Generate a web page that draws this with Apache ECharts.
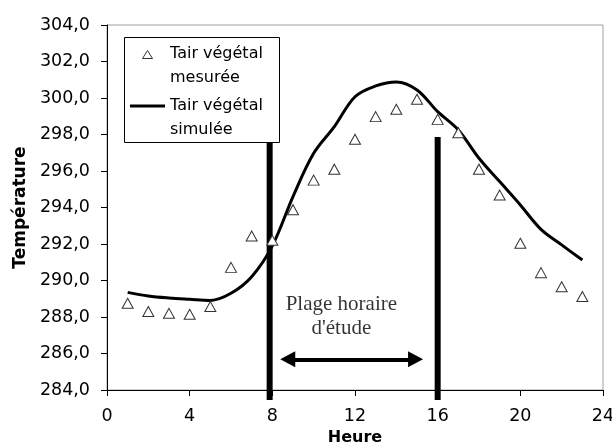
<!DOCTYPE html>
<html>
<head>
<meta charset="utf-8">
<script src="https://cdn.jsdelivr.net/npm/echarts@6/dist/echarts.min.js"></script>
<style>
  html, body { margin: 0; padding: 0; background: #fff; }
  #chart { width: 612px; height: 446px; }
</style>
</head>
<body>
<div id="chart"></div>
<script>
// Hours of the day (x values)
const hours = [1, 2, 3, 4, 5, 6, 7, 8, 9, 10, 11, 12, 13, 14, 15, 16, 17, 18, 19, 20, 21, 22, 23];
// Measured canopy air temperature (K)
const tairMesuree = [288.75, 288.3, 288.2, 288.15, 288.57, 290.72, 292.44, 292.2, 293.88, 295.5, 296.1, 297.74,
                     298.98, 299.38, 299.93, 298.83, 298.1, 296.1, 294.68, 292.04, 290.43, 289.66, 289.12];
// Simulated canopy air temperature (K)
const tairSimulee = [289.35, 289.15, 289.04, 288.97, 288.91, 289.3, 290.21, 291.9, 294.6, 296.97, 298.43, 300.07,
                     300.66, 300.88, 300.44, 299.25, 298.25, 296.7, 295.42, 294.14, 292.8, 291.95, 291.12];
// Axis ranges and tick steps
const xTicks = [0, 4, 8, 12, 16, 20, 24];
const yTicks = [284, 286, 288, 290, 292, 294, 296, 298, 300, 302, 304];
// Study window boundaries (hours) and their marker extent (K)
const studyStart = 7.87;
const studyEnd = 16;
const markerTop = 297.86;
const markerBottom = 283.45;
// Double arrow across the study window
const arrowFrom = 8.745;
const arrowTo = 14.93;
const arrowLevel = 285.68;
// Annotation text anchor
const noteText = "Plage horaire\nd'étude";
const notePos = [11.34, 288.04];

const serieLabels = ['Tair végétal\nmesurée', 'Tair végétal\nsimulée'];

const chart = echarts.init(document.getElementById('chart'), null, { renderer: 'canvas' });

const sans = 'DejaVu Sans';

const option = {
  animation: false,
  backgroundColor: '#fff',
  grid: {
    left: 107, top: 25, right: 9, bottom: 56,
    outerBoundsMode: 'none',
    containLabel: false,
    show: true, borderColor: '#a0a0a0', borderWidth: 1, backgroundColor: 'transparent'
  },
  xAxis: {
    type: 'value',
    min: xTicks[0], max: xTicks[xTicks.length - 1], interval: xTicks[1] - xTicks[0],
    name: 'Heure', nameLocation: 'middle', nameGap: 24,
    nameTextStyle: { fontFamily: sans, fontWeight: 'bold', fontSize: 16, color: '#000' },
    axisLine: { show: true, onZero: false, lineStyle: { color: '#000', width: 1 } },
    axisTick: { show: true, inside: false, length: 6, lineStyle: { color: '#000' } },
    axisLabel: { margin: 17, fontFamily: sans, fontSize: 17.5, color: '#000' },
    splitLine: { show: false }
  },
  yAxis: {
    type: 'value',
    min: yTicks[0], max: yTicks[yTicks.length - 1], interval: yTicks[1] - yTicks[0],
    name: 'Température', nameLocation: 'middle', nameGap: 78,
    nameTextStyle: { fontFamily: sans, fontWeight: 'bold', fontSize: 17, color: '#000' },
    axisLine: { show: true, onZero: false, lineStyle: { color: '#000', width: 1 } },
    axisTick: { show: true, inside: false, length: 6, lineStyle: { color: '#000' } },
    axisLabel: {
      margin: 17, fontFamily: sans, fontSize: 17.5, color: '#000',
      formatter: v => v.toFixed(1).replace('.', ',')
    },
    splitLine: { show: false }
  },
  graphic: [
    { type: 'rect', left: 124, top: 37, z: 100,
      shape: { width: 155, height: 105 },
      style: { fill: '#fff', stroke: '#000', lineWidth: 1 } },
    { type: 'polygon', z: 101,
      shape: { points: [[142.5, 58.5], [152.5, 58.5], [147.5, 50.5]] },
      style: { fill: '#fff', stroke: '#333', lineWidth: 1 } },
    { type: 'line', z: 101,
      shape: { x1: 130, y1: 106, x2: 165, y2: 106 },
      style: { stroke: '#000', lineWidth: 3 } },
    { type: 'text', x: 170, y: 54, z: 101,
      style: { text: 'Tair végétal', font: '16px "DejaVu Sans"', fill: '#000', verticalAlign: 'middle' } },
    { type: 'text', x: 170, y: 78, z: 101,
      style: { text: 'mesurée', font: '16px "DejaVu Sans"', fill: '#000', verticalAlign: 'middle' } },
    { type: 'text', x: 170, y: 106, z: 101,
      style: { text: 'Tair végétal', font: '16px "DejaVu Sans"', fill: '#000', verticalAlign: 'middle' } },
    { type: 'text', x: 170, y: 129.5, z: 101,
      style: { text: 'simulée', font: '16px "DejaVu Sans"', fill: '#000', verticalAlign: 'middle' } }
  ],
  series: [
    {
      // Study window boundaries and the double arrow between them
      type: 'line',
      name: 'window-start',
      clip: false,
      silent: true,
      symbol: 'none',
      data: [[studyStart, markerTop], [studyStart, markerBottom]],
      lineStyle: { color: '#000', width: 6, cap: 'butt' },
      z: 2,
      markLine: {
        silent: true,
        symbol: ['triangle', 'triangle'],
        symbolSize: [16, 15],
        label: { show: false },
        lineStyle: { color: '#000', width: 4, type: 'solid' },
        emphasis: { disabled: true },
        data: [[{ coord: [arrowFrom, arrowLevel] }, { coord: [arrowTo, arrowLevel] }]]
      }
    },
    {
      type: 'line',
      name: 'window-end',
      clip: false,
      silent: true,
      symbol: 'none',
      data: [[studyEnd, markerTop], [studyEnd, markerBottom]],
      lineStyle: { color: '#000', width: 6, cap: 'butt' },
      z: 2
    },
    {
      type: 'scatter',
      name: 'note',
      silent: true,
      symbolSize: 0,
      data: [notePos],
      label: {
        show: true, position: 'inside', formatter: noteText,
        fontFamily: 'Liberation Serif', fontSize: 21, lineHeight: 24, color: '#000', align: 'center'
      },
      z: 3
    },
    {
      type: 'line',
      name: serieLabels[1],
      smooth: 0.35,
      symbol: 'none',
      data: hours.map((h, i) => [h, tairSimulee[i]]),
      lineStyle: { color: '#000', width: 3 },
      z: 4
    },
    {
      type: 'scatter',
      name: serieLabels[0],
      symbol: 'triangle',
      symbolSize: [11, 10],
      data: hours.map((h, i) => [h, tairMesuree[i]]),
      itemStyle: { color: '#fff', borderColor: '#333', borderWidth: 1, opacity: 1 },
      z: 5
    }
  ]
};

chart.setOption(option);
</script>
</body>
</html>
